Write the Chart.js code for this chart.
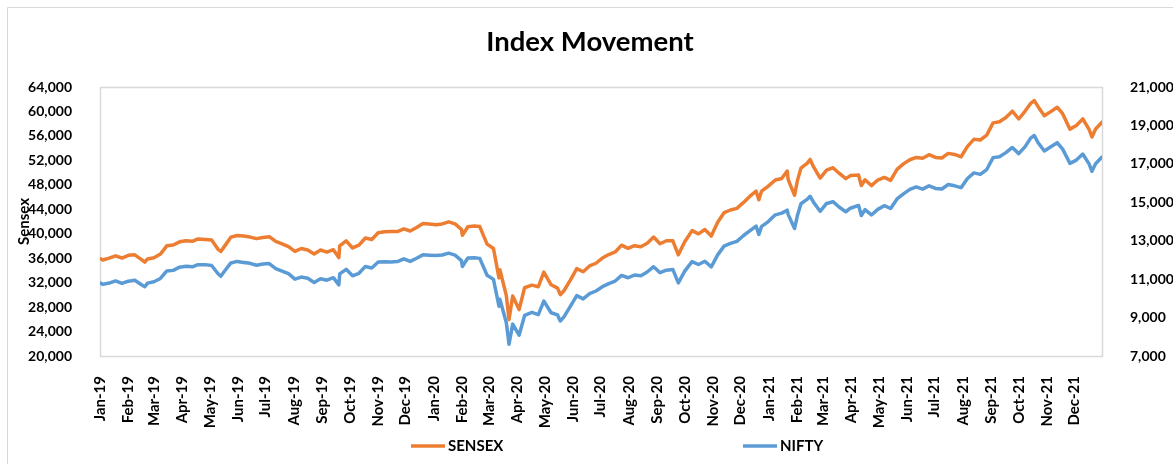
<!DOCTYPE html>
<html><head><meta charset="utf-8">
<script src="https://cdn.jsdelivr.net/npm/chart.js@4"></script>
<style>html,body{margin:0;padding:0;background:#fff;}canvas{display:block;}</style>
</head><body>
<canvas id="c" width="1173" height="464"></canvas>
<script>
const chartTitle = 'Index Movement';
const seriesNames = ['SENSEX', 'NIFTY'];
const leftAxisTitle = 'Sensex';

const dates = [
'2019-01-02','2019-01-04','2019-01-11','2019-01-18','2019-01-25','2019-02-01','2019-02-08','2019-02-15','2019-02-19','2019-02-22',
'2019-03-01','2019-03-08','2019-03-15','2019-03-22','2019-03-29','2019-04-05','2019-04-12','2019-04-18','2019-04-26','2019-05-03',
'2019-05-10','2019-05-13','2019-05-17','2019-05-24','2019-05-31','2019-06-07','2019-06-14','2019-06-21','2019-06-28','2019-07-05',
'2019-07-12','2019-07-19','2019-07-26','2019-08-02','2019-08-09','2019-08-16','2019-08-23','2019-08-30','2019-09-06','2019-09-13',
'2019-09-19','2019-09-20','2019-09-27','2019-10-04','2019-10-11','2019-10-18','2019-10-25','2019-11-01','2019-11-08','2019-11-15',
'2019-11-22','2019-11-29','2019-12-06','2019-12-13','2019-12-20','2019-12-27',
'2020-01-03','2020-01-10','2020-01-17','2020-01-24','2020-01-31','2020-02-01','2020-02-07','2020-02-14','2020-02-20','2020-02-28',
'2020-03-06','2020-03-12','2020-03-13','2020-03-20','2020-03-23','2020-03-27','2020-04-03','2020-04-09','2020-04-17','2020-04-24',
'2020-04-30','2020-05-08','2020-05-15','2020-05-18','2020-05-22','2020-05-29','2020-06-05','2020-06-12','2020-06-19','2020-06-26',
'2020-07-03','2020-07-10','2020-07-17','2020-07-24','2020-07-31','2020-08-07','2020-08-14','2020-08-21','2020-08-28','2020-09-04',
'2020-09-11','2020-09-18','2020-09-24','2020-10-01','2020-10-09','2020-10-16','2020-10-23','2020-10-30','2020-11-06','2020-11-13',
'2020-11-20','2020-11-27','2020-12-04','2020-12-11','2020-12-18','2020-12-21','2020-12-24','2020-12-31',
'2021-01-08','2021-01-15','2021-01-21','2021-01-22','2021-01-29','2021-02-01','2021-02-05','2021-02-12','2021-02-15','2021-02-19',
'2021-02-26','2021-03-05','2021-03-12','2021-03-19','2021-03-26','2021-03-31','2021-04-09','2021-04-12','2021-04-16','2021-04-23',
'2021-04-30','2021-05-07','2021-05-14','2021-05-21','2021-05-28','2021-06-04','2021-06-11','2021-06-18','2021-06-25','2021-07-02',
'2021-07-09','2021-07-16','2021-07-23','2021-07-30','2021-08-06','2021-08-13','2021-08-20','2021-08-27','2021-09-03','2021-09-10',
'2021-09-17','2021-09-24','2021-10-01','2021-10-08','2021-10-14','2021-10-18','2021-10-22','2021-10-29','2021-11-03','2021-11-12',
'2021-11-18','2021-11-26','2021-12-03','2021-12-10','2021-12-17','2021-12-20','2021-12-24','2021-12-31'
];

const sensex = [
35892,35695,36010,36387,36026,36469,36546,35809,35352,35871,
36064,36671,38024,38164,38673,38862,38767,39140,39067,38963,
37463,37091,37931,39435,39714,39616,39452,39194,39395,39513,
38736,38337,37882,37118,37582,37350,36701,37333,36982,37385,
36093,38014,38823,37673,38127,39298,39058,40165,40323,40357,
40359,40794,40445,41010,41682,41575,
41465,41600,41945,41613,40723,39736,41141,41257,41170,38297,
37577,32778,34103,29916,25981,29816,27591,31160,31589,31327,
33718,31643,31098,30029,30673,32424,34287,33781,34732,35171,
36021,36594,37020,38129,37607,38040,37877,38434,39467,38357,
38854,38845,36553,38697,40509,39983,40686,39614,41893,43443,
43882,44150,45080,46099,46961,45554,46974,47751,
48782,49035,50255,48879,46286,48601,50732,51544,52154,50890,
49100,50405,50792,49858,49008,49509,49591,47883,48832,47878,
48782,49206,48732,50540,51423,52100,52474,52344,52925,52485,
52386,53140,52976,52587,54278,55437,55329,56124,58130,58305,
59015,60048,58765,60059,61306,61766,60821,59307,59772,60687,
59636,57107,57696,58787,57011,55822,57124,58254
];

const nifty = [
10792,10727,10795,10907,10780,10894,10944,10724,10605,10792,
10864,11035,11427,11456,11624,11666,11643,11753,11755,11712,
11279,11148,11407,11844,11923,11871,11823,11724,11789,11811,
11552,11419,11284,10997,11109,11048,10829,11023,10946,11076,
10704,11274,11512,11174,11305,11662,11584,11891,11908,11895,
11914,12056,11922,12087,12272,12246,
12226,12257,12352,12248,11962,11662,12098,12113,12081,11202,
10989,9590,9955,8745,7610,8660,8084,9112,9267,9154,
9860,9252,9137,8823,9039,9580,10142,9972,10244,10383,
10607,10768,10901,11194,11073,11214,11178,11372,11647,11333,
11464,11505,10806,11417,11914,11762,11930,11642,12264,12720,
12859,12969,13258,13514,13761,13328,13749,13982,
14347,14434,14590,14372,13635,14281,14924,15163,15315,14982,
14529,14938,15031,14744,14507,14691,14835,14310,14617,14341,
14631,14823,14677,15175,15436,15670,15799,15683,15860,15722,
15690,15923,15856,15763,16238,16529,16451,16705,17324,17369,
17585,17853,17532,17895,18339,18477,18115,17672,17829,18103,
17765,17026,17197,17511,16985,16614,17004,17354
];

const monthTickLabels = [
'Jan-19','Feb-19','Mar-19','Apr-19','May-19','Jun-19','Jul-19','Aug-19','Sep-19','Oct-19','Nov-19','Dec-19',
'Jan-20','Feb-20','Mar-20','Apr-20','May-20','Jun-20','Jul-20','Aug-20','Sep-20','Oct-20','Nov-20','Dec-20',
'Jan-21','Feb-21','Mar-21','Apr-21','May-21','Jun-21','Jul-21','Aug-21','Sep-21','Oct-21','Nov-21','Dec-21'
];

const COLORS = { sensex: '#ED7D31', nifty: '#5B9BD5', text: '#000000', border: '#D9D9D9' };
const FONT = 'Lato, "Open Sans", sans-serif';

const DAY = 86400000;
const BASE = Date.UTC(2019, 0, 1);
const MONTHS = ['Jan','Feb','Mar','Apr','May','Jun','Jul','Aug','Sep','Oct','Nov','Dec'];
function dayNum(s) { const [y, m, d] = s.split('-').map(Number); return (Date.UTC(y, m - 1, d) - BASE) / DAY; }
function labelDay(l) { const [mon, yy] = l.split('-'); return (Date.UTC(2000 + Number(yy), MONTHS.indexOf(mon), 1) - BASE) / DAY; }
const xMax = (Date.UTC(2021, 11, 31) - BASE) / DAY;

const sensexPts = dates.map((d, i) => ({ x: dayNum(d), y: sensex[i] }));
const niftyPts = dates.map((d, i) => ({ x: dayNum(d), y: nifty[i] }));
const fmt = v => Number(v).toLocaleString('en-US');
const xTickFont = { family: FONT, size: 15, weight: 'bold' };
const yTickFont = { family: FONT, size: 14, weight: 'bold' };

const decor = {
  id: 'decor',
  beforeDraw(chart) {
    const ctx = chart.ctx;
    ctx.save();
    ctx.fillStyle = '#fff';
    ctx.fillRect(0, 0, chart.width, chart.height);
    ctx.strokeStyle = COLORS.border;
    ctx.lineWidth = 1;
    ctx.beginPath();
    ctx.moveTo(7.5, chart.height);
    ctx.lineTo(7.5, 7.5);
    ctx.lineTo(chart.width, 7.5);
    ctx.stroke();
    ctx.restore();
  },
  beforeDatasetsDraw(chart) {
    const { ctx, chartArea: a } = chart;
    ctx.save();
    ctx.strokeStyle = COLORS.border;
    ctx.lineWidth = 1.5;
    ctx.strokeRect(Math.round(a.left) + 0.5, Math.round(a.top) + 0.5, Math.round(a.right - a.left), Math.round(a.bottom - a.top));
    ctx.restore();
  },
  afterDraw(chart) {
    const ctx = chart.ctx;
    ctx.save();
    ctx.fillStyle = COLORS.text;
    ctx.font = 'bold 27.5px ' + FONT;
    ctx.textAlign = 'center';
    ctx.textBaseline = 'middle';
    ctx.fillText(chartTitle, 590, 42);
    const items = [[411, COLORS.sensex, seriesNames[0]], [743, COLORS.nifty, seriesNames[1]]];
    ctx.font = 'bold 15px ' + FONT;
    ctx.textAlign = 'left';
    items.forEach(([x, c, t]) => {
      ctx.strokeStyle = c;
      ctx.lineWidth = 3.5;
      ctx.beginPath();
      ctx.moveTo(x, 446);
      ctx.lineTo(x + 34, 446);
      ctx.stroke();
      ctx.fillText(t, x + 37, 446);
    });
    ctx.restore();
  }
};

new Chart(document.getElementById('c'), {
  type: 'line',
  data: {
    datasets: [
      { label: seriesNames[0], data: sensexPts, yAxisID: 'y', borderColor: COLORS.sensex, backgroundColor: COLORS.sensex },
      { label: seriesNames[1], data: niftyPts, yAxisID: 'y1', borderColor: COLORS.nifty, backgroundColor: COLORS.nifty }
    ]
  },
  options: {
    responsive: false,
    animation: false,
    devicePixelRatio: 1,
    layout: { padding: { top: 87, left: 0, right: 0, bottom: 0 } },
    elements: { point: { radius: 0 }, line: { borderWidth: 3.5, tension: 0, borderJoinStyle: 'round', borderCapStyle: 'round' } },
    plugins: { legend: { display: false }, tooltip: { enabled: false }, title: { display: false } },
    scales: {
      x: {
        type: 'linear', min: 0, max: xMax,
        grid: { display: false }, border: { display: false },
        afterBuildTicks: s => { s.ticks = monthTickLabels.map(l => ({ value: labelDay(l) })); },
        ticks: { autoSkip: false, minRotation: 90, maxRotation: 90, padding: 12, color: COLORS.text, font: xTickFont,
                 callback: (v, i) => monthTickLabels[i] },
        afterFit: s => { s.height = 108; }
      },
      y: {
        position: 'left', min: 20000, max: 64000,
        grid: { display: false }, border: { display: false },
        ticks: { stepSize: 4000, padding: 20, color: COLORS.text, font: yTickFont, callback: fmt },
        title: { display: true, text: leftAxisTitle, color: COLORS.text, font: xTickFont, padding: { top: 15, bottom: 0 } },
        afterFit: s => { s.width = 100; }
      },
      y1: {
        position: 'right', min: 7000, max: 21000,
        grid: { display: false }, border: { display: false },
        ticks: { stepSize: 2000, padding: 20, color: COLORS.text, font: yTickFont, callback: fmt },
        afterFit: s => { s.width = 71; }
      }
    }
  },
  plugins: [decor]
});
</script>
</body></html>
